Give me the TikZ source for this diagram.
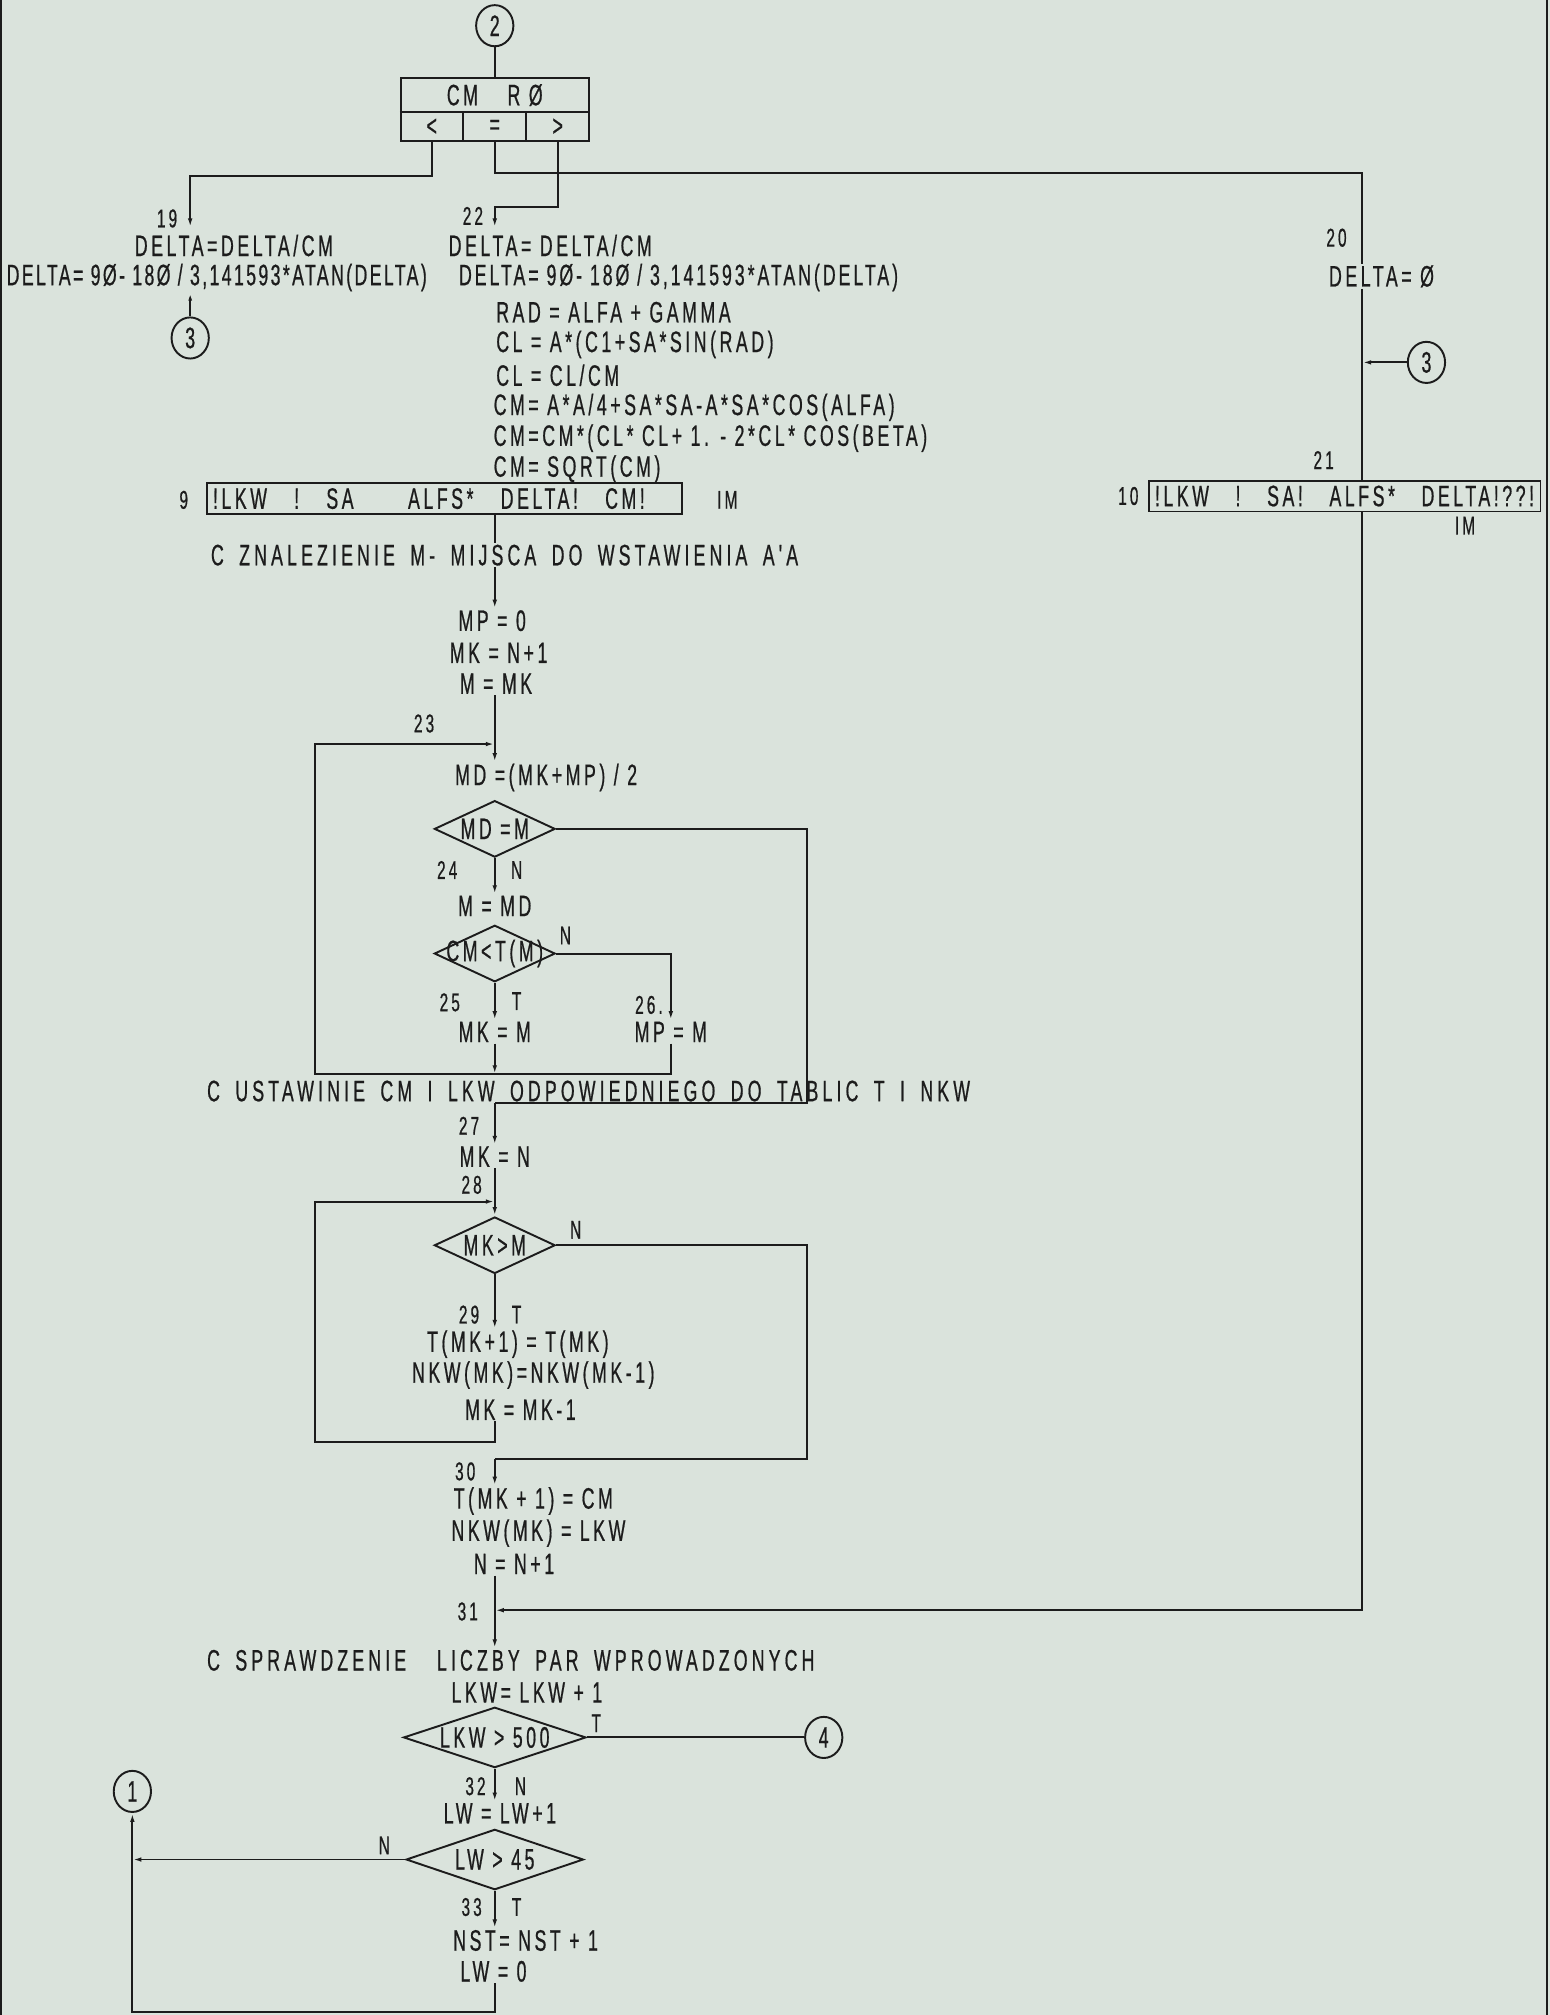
\documentclass[tikz,border=0pt]{standalone}
\usepackage{fontspec}
\setmainfont{Liberation Sans}[FakeStretch=0.6,LetterSpace=12,FakeBold=0.6]
\newfontfamily\cmtfont{Liberation Sans}[FakeStretch=0.6,LetterSpace=14,FakeBold=0.6,WordSpace=1.7]
\usepackage{tikz}
\usetikzlibrary{arrows.meta,positioning,calc,shapes.geometric}
\definecolor{Paper}{HTML}{DAE3DC}
\definecolor{Ink}{HTML}{1C1C1C}
\tikzset{
  txt/.style={font=\fontsize{23}{24}\selectfont,inner sep=1pt,text=Ink},
  cmt/.style={font=\cmtfont\fontsize{23}{24}\selectfont,inner sep=1pt,text=Ink,anchor=west},
  lbl/.style={font=\fontsize{20}{21}\selectfont,inner sep=1pt,text=Ink},
  flow/.style={draw=Ink,line width=1.5pt},
  arr/.style={flow,-{Latex[length=7pt,width=3.5pt]}},
  conn/.style={draw=Ink,line width=1.5pt,ellipse,minimum width=29pt,minimum height=32pt,inner sep=0pt,txt},
  cond/.style={draw=Ink,line width=1.5pt,diamond,aspect=3.2,inner sep=0pt,minimum width=94pt,minimum height=44pt,txt},
  outbox/.style={draw=Ink,line width=1.5pt,rectangle,anchor=west,inner xsep=4pt,inner ysep=2pt,minimum height=24pt,txt}
}
\newcommand{\inlbl}[1]{\makebox[0pt]{#1}}
\begin{document}
\begin{tikzpicture}[x=1pt,y=-1pt]
  \fill[Paper] (0,0) rectangle (1206,1568);
  \useasboundingbox (0,0) rectangle (1206,1568);
  \draw[flow] (1,0) -- (1,1568);
  \draw[flow] (1204,0) -- (1204,1568);
  \coordinate (col) at (385,0);
  \coordinate (rcol) at (1060,0);

  % wejscie 2 i skok arytmetyczny
  \node[conn] (c2) at (385,20) {2};
  \node[draw=Ink,line width=1.5pt,minimum width=146pt,minimum height=49pt,inner sep=0pt] (sw) at (385,85.5) {};
  \draw[flow] (sw.west |- 0,87) -- (sw.east |- 0,87);
  \foreach \dx in {360,409}
    \draw[flow] (\dx,87) -- (\dx,110);
  \node[txt] (swhd) at (385,74) {CM\quad R Ø};
  \node[txt] (lt) at (336,99) {<};
  \node[txt] (eq) at (385,99) {=};
  \node[txt] (gt) at (434,99) {>};
  \coordinate (a19) at (148,177);
  \coordinate (a22) at (385,177);
  \node[lbl] (n19) at (130,170) {19};
  \node[lbl] (n22) at (368,168) {22};
  \node[txt] (dl1) at (182,191) {DELTA=DELTA/CM};
  \node[txt,anchor=west,font=\fontsize{23}{24}\selectfont\addfontfeature{LetterSpace=8}] (dl2) at (4,216) {DELTA= 9Ø- 18Ø / 3,141593*ATAN(DELTA)};
  \node[conn] (c3l) at (148,263) {3};
  \node[txt,anchor=west] (dr1) at (348,191) {DELTA= DELTA/CM};
  \node[txt,anchor=west,font=\fontsize{23}{24}\selectfont\addfontfeature{LetterSpace=10}] (dr2) at (356,216) {DELTA= 9Ø- 18Ø / 3,141593*ATAN(DELTA)};

  % obliczenie CM
  \node[txt,anchor=west] (rad) at (385,243) {RAD = ALFA + GAMMA};
  \node[txt,anchor=west] (cl1) at (385,268) {CL = A*(C1+SA*SIN(RAD)};
  \node[txt,anchor=west] (cl2) at (385,292) {CL = CL/CM};
  \node[txt,anchor=west] (cm1) at (383,317) {CM= A*A/4+SA*SA-A*SA*COS(ALFA)};
  \node[txt,anchor=west] (cm2) at (383,341) {CM=CM*(CL* CL+ 1. - 2*CL* COS(BETA)};
  \node[txt,anchor=west] (cm3) at (383,365) {CM= SQRT(CM)};
  \node[outbox,minimum width=370pt] (pr9) at (160,388) {\makebox[336pt][s]{!LKW ! SA \ ALFS* DELTA! CM!}\hspace*{24pt}};
  \node[lbl] (n9) at (143,389) {9};
  \node[lbl] (im9) at (566,389) {IM};
  \node[cmt] (znal) at (163,432) {C ZNALEZIENIE M- MIJSCA DO WSTAWIENIA A'A};

  % szukanie miejsca
  \node[txt] (mp0) at (383,483) {MP = 0};
  \node[txt] (mkn1) at (388,508) {MK = N+1};
  \node[txt] (mmk) at (386,532) {M = MK};
  \coordinate (j23) at (385,579);
  \node[lbl] (n23) at (330,563) {23};
  \node[txt,anchor=west] (md) at (353,605) {MD =(MK+MP) / 2};
  \node[cond] (d1) at (385,645) {\inlbl{MD =M}};
  \node[lbl] (n24) at (348,677) {24};
  \node[lbl] (n24n) at (402,677) {N};
  \node[txt] (mmd) at (385,705) {M = MD};
  \node[cond] (d2) at (385,742) {\inlbl{CM<T(M)}};
  \node[lbl] (d2n) at (440,728) {N};
  \node[lbl] (n25) at (350,780) {25};
  \node[lbl] (n25t) at (402,779) {T};
  \node[lbl] (n26) at (505,782) {26.};
  \node[txt] (mkm) at (385,803) {MK = M};
  \node[txt] (mpm) at (522,803) {MP = M};
  \coordinate (b1) at (385,836);
  \node[cmt] (ustaw) at (160,849) {C USTAWINIE CM I LKW ODPOWIEDNIEGO DO TABLIC T I NKW};

  % przesuwanie tablic
  \coordinate (j27) at (385,858);
  \node[lbl] (n27) at (365,876) {27};
  \node[txt] (mkn) at (385,900) {MK = N};
  \node[lbl] (n28) at (367,922) {28};
  \coordinate (j28) at (385,935);
  \node[cond] (d3) at (385,969) {\inlbl{MK>M}};
  \node[lbl] (d3n) at (448,957) {N};
  \node[lbl] (n29) at (365,1023) {29};
  \node[lbl] (n29t) at (402,1023) {T};
  \node[txt] (tmk) at (403,1046) {T(MK+1) = T(MK)};
  \node[txt] (nkw) at (415,1070) {NKW(MK)=NKW(MK-1)};
  \node[txt] (mkm1) at (405,1097) {MK = MK-1};
  \coordinate (j30) at (385,1135);
  \node[lbl] (n30) at (362,1145) {30};
  \node[txt] (tcm) at (415,1168) {T(MK + 1) = CM};
  \node[txt] (nkwl) at (419,1193) {NKW(MK) = LKW};
  \node[txt] (nn1) at (400,1217) {N = N+1};
  \coordinate (j31) at (385,1253);
  \node[lbl] (n31) at (364,1254) {31};
  \node[cmt] (sprz) at (160,1292) {C SPRAWDZENIE\ \ LICZBY PAR WPROWADZONYCH};

  % liczba par
  \node[txt] (lkw1) at (410,1317) {LKW= LKW + 1};
  \node[cond,minimum width=142pt,minimum height=47pt] (d4) at (385,1352) {\inlbl{LKW > 500}};
  \node[lbl] (d4t) at (464,1341) {T};
  \node[conn] (c4) at (641,1352) {4};
  \node[lbl] (n32) at (370,1390) {32};
  \node[lbl] (n32n) at (405,1390) {N};
  \node[txt] (lw1) at (389,1411) {LW = LW+1};
  \node[cond,minimum width=138pt,minimum height=47pt] (d5) at (385,1447) {\inlbl{LW > 45}};
  \node[lbl] (d5n) at (299,1436) {N};
  \node[conn] (c1) at (103,1394) {1};
  \node[lbl] (n33) at (367,1484) {33};
  \node[lbl] (n33t) at (402,1484) {T};
  \node[txt] (nst) at (409,1510) {NST= NST + 1};
  \node[txt] (lw0) at (384,1534) {LW = 0};
  \coordinate (bl) at (103,1566);

  % galaz CM = 0
  \node[lbl] (n20) at (1040,185) {20};
  \node[txt,anchor=west] (dz) at (1033,215) {DELTA= Ø};
  \node[conn] (c3r) at (1110,282) {3};
  \node[lbl] (n21) at (1030,358) {21};
  \node[outbox,minimum width=305pt] (pr10) at (893,386) {\makebox[295pt][s]{!LKW ! SA! ALFS* DELTA!??!}};
  \node[lbl] (n10) at (878,386) {10};
  \node[lbl] (im10) at (1140,409) {IM};

  % polaczenia
  \draw[flow] (c2) -- (sw);
  \draw[arr] (lt |- sw.south) -- ++(0,26) -| (a19);
  \draw[flow] (eq |- sw.south) -- ++(0,24) -| (dz.north -| rcol);
  \draw[arr] (gt |- sw.south) -- ++(0,50) -| (a22);
  \draw[flow,{Latex[length=6pt,width=3pt]}-] (dl2.south -| c3l) -- (c3l);
  \draw[flow] (pr9.south -| col) -- (znal.north -| col);
  \draw[arr] (znal.south -| col) -- (mp0.north -| col);
  \draw[arr] (mmk.south -| col) -- (md.north -| col);
  \draw[arr] (d1.south) -- (mmd.north);
  \draw[flow] (d1.east) -| (628,858) -- (j27);
  \draw[arr] (d2.south) -- (mkm.north);
  \draw[arr] (d2.east) -| (mpm.north);
  \draw[arr] (mkm.south) -- (b1);
  \draw[arr] (mpm.south) |- (245,836) |- (j23);
  \draw[arr] (j27) -- (mkn.north);
  \draw[arr] (mkn.south) -- (d3.north);
  \draw[arr] (mkm1.south -| col) |- (245,1122) |- (j28);
  \draw[arr] (d3.south) -- (tmk.north -| col);
  \draw[flow] (d3.east) -| (628,1135) -- (j30);
  \draw[arr] (j30) -- (tcm.north -| col);
  \draw[arr] (nn1.south -| col) -- (sprz.north -| col);
  \draw[flow] (dz.south -| rcol) -- (pr10.north -| rcol);
  \draw[arr] (c3r) -- (c3r -| rcol);
  \draw[arr] (pr10.south -| rcol) |- (j31);
  \draw[flow] (d4.east) -- (c4);
  \draw[arr] (d4.south) -- (lw1.north -| col);
  \draw[arr] (d5.west) -- (d5.west -| c1);
  \draw[arr] (d5.south) -- (nst.north -| col);
  \draw[arr] (lw0.south -| col) |- (bl) -- (c1);
\end{tikzpicture}
\end{document}
